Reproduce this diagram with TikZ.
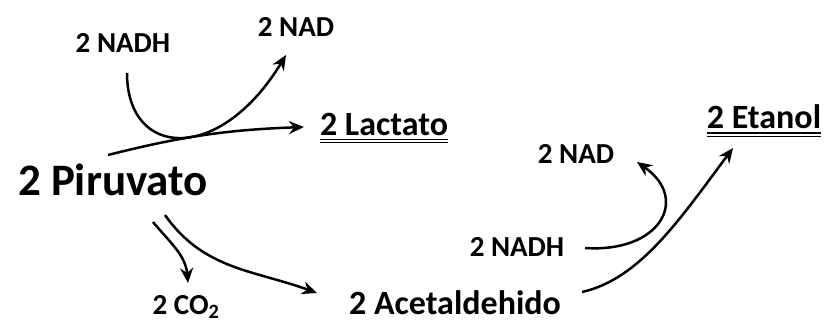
\documentclass[tikz,border=0pt]{standalone}
\usepackage{fontspec}
\setmainfont{Carlito}
\usepackage{tikz}
\usetikzlibrary{arrows.meta}
\tikzset{>={Stealth[length=15pt,width=13pt]}}
\tikzset{
  small/.style={font=\fontsize{29}{34}\selectfont\bfseries, inner sep=0pt},
  mid/.style={font=\fontsize{34}{40}\selectfont\bfseries, inner sep=0pt},
  big/.style={font=\fontsize{45}{50}\selectfont\bfseries, inner sep=0pt},
  flow/.style={->, line width=2.5pt},
  uline/.style={line width=1.6pt},
  ulinethin/.style={line width=0.8pt}
}

\begin{document}
\begin{tikzpicture}[x=1pt, y=1pt]
            \useasboundingbox (0,0) rectangle (825,329);
            \node[small] (nadhA) at (123,286) {2 NADH};
            \node[small] (nadA) at (296,302) {2 NAD};
            \node[mid] (lactato) at (384,205) {2 Lactato};
            \node[big] (piruvato) at (113,149) {2 Piruvato};
            \node[small] (co) at (186,22) {2 CO\textsubscript{2}};
            \node[mid] (acetal) at (455,26) {2 Acetaldehido};
            \node[small] (nadhB) at (517,82) {2 NADH};
            \node[small] (nadB) at (576,175) {2 NAD};
            \node[mid] (etanol) at (764,212) {2 Etanol};
            % underlines
            \draw[uline] ([yshift=-4pt]lactato.south west) -- ([yshift=-4pt]lactato.south east);
            \draw[ulinethin] ([yshift=-7pt]lactato.south west) -- ([yshift=-7pt]lactato.south east);
            \draw[uline] ([yshift=-4pt]etanol.south west) -- ([yshift=-4pt]etanol.south east);
            \draw[ulinethin] ([yshift=-7pt]etanol.south west) -- ([yshift=-7pt]etanol.south east);
            % lactato
            \draw[flow] ([shift={(4,-30)}]nadhA.center) .. controls (127,170) and (220,165) .. ([shift={(-10,-28)}]nadA.center);
            \draw[flow] ([shift={(-5,25)}]piruvato.center) to [bend left=6] ([shift={(-80,-3)}]lactato.center);
            % etanol
            \draw[flow] ([shift={(40,-42)}]piruvato.center) to [out=-50, in=95] ([shift={(2,24)}]co.center);
            \draw[flow] ([shift={(52,-35)}]piruvato.center) to [out=-55, in=160] ([shift={(-138,10)}]acetal.center);
            \draw[flow] ([shift={(68,-1)}]nadhB.center) .. controls (660,76) and (690,130) .. ([shift={(61,-8)}]nadB.center);
            \draw[flow] ([shift={(127,11)}]acetal.center) .. controls (640,50) and (680,110) .. ([shift={(-31,-31)}]etanol.center);
        \end{tikzpicture}
\end{document}
